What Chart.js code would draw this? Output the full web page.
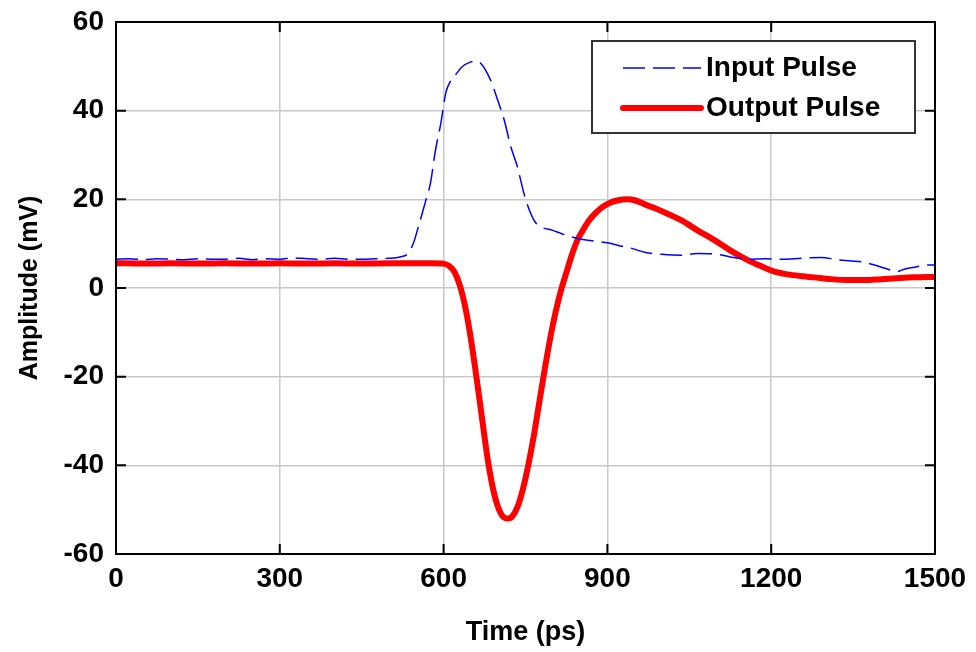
<!DOCTYPE html>
<html lang="en">

<head>
    <meta charset="UTF-8">
    <title>Input / Output Pulse</title>
    <script src="https://cdn.jsdelivr.net/npm/chart.js"></script>
    <style>
        body {
            margin: 0;
            background: white;
        }

        #pulseChart {
            display: block;
        }
    </style>
</head>

<body>
    <canvas id="pulseChart" width="976" height="652"></canvas>

    <script>
        // Input pulse (blue dashed), time in ps, amplitude in mV
        const inputTime = [0, 25, 50, 75, 100, 125, 150, 175, 200, 225, 250, 275, 300, 325, 350, 375, 400, 425, 450, 475,
            500, 520, 535, 545, 553, 561, 568, 576, 585, 595, 604, 612, 620, 634, 650, 660, 668, 686, 699, 711,
            723, 735, 747, 757, 767, 778, 800, 815, 835, 851, 875, 900, 920, 943, 970, 1000, 1035, 1065, 1096, 1125,
            1157, 1190, 1218, 1255, 1292, 1320, 1347, 1370, 1389, 1410, 1430, 1445, 1463, 1490, 1500];
        const inputAmp = [6.5, 6.6, 6.4, 6.6, 6.5, 6.4, 6.6, 6.5, 6.5, 6.7, 6.4, 6.6, 6.5, 6.8, 6.6, 6.5, 6.7, 6.5, 6.5, 6.6,
            6.7, 7.0, 7.8, 10.2, 13.5, 16.9, 20.0, 23.7, 31.0, 37.2, 44.0, 46.5, 47.8, 49.9, 51.0, 51.2, 50.7, 46.9, 42.4, 37.9,
            31.9, 27.4, 21.4, 17.6, 15.0, 13.8, 13.0, 12.3, 11.5, 11.0, 10.6, 10.2, 9.6, 9.0, 8.0, 7.6, 7.4, 7.8, 7.7, 7.0,
            6.5, 6.6, 6.5, 6.7, 6.9, 6.4, 6.1, 5.8, 5.2, 4.4, 3.7, 4.3, 4.7, 5.2, 5.2];

        // Output pulse (red solid)
        const outputTime = [0, 50, 100, 150, 200, 250, 300, 350, 400, 450, 500, 550, 580, 600, 610, 620, 630, 640, 650, 660,
            670, 680, 690, 700, 710, 718, 726, 735, 745, 755, 765, 775, 785, 795, 805, 815, 825, 835, 845, 855,
            865, 875, 890, 906, 920, 935, 950, 970, 1000, 1035, 1065, 1096, 1125, 1157, 1180, 1206, 1240, 1279, 1310, 1341,
            1370, 1402, 1430, 1463, 1500];
        const outputAmp = [5.6, 5.5, 5.6, 5.5, 5.6, 5.5, 5.6, 5.5, 5.6, 5.5, 5.6, 5.6, 5.6, 5.5, 5.0, 3.6, 0.5, -4.5, -11.5, -20.0,
            -29.0, -38.0, -45.0, -49.5, -51.7, -52.0, -51.5, -49.5, -45.5, -40.0, -33.5, -26.0, -18.5, -11.5, -5.5, -0.5, 3.5, 7.5, 10.8, 13.0,
            15.0, 16.5, 18.2, 19.3, 19.8, 20.0, 19.8, 18.8, 17.3, 15.3, 13.0, 10.8, 8.5, 6.3, 5.0, 3.7, 2.9, 2.4, 2.0, 1.8,
            1.8, 2.0, 2.2, 2.4, 2.5];

        const xTicks = [0, 300, 600, 900, 1200, 1500];
        const yTicks = [-60, -40, -20, 0, 20, 40, 60];

        const toPoints = (xs, ys) => xs.map((x, i) => ({ x: x, y: ys[i] }));

        // MATLAB style box: frame, inward ticks, legend in the upper right
        const matlabBox = {
            id: 'matlabBox',
            afterDatasetsDraw(chart) {
                const { ctx, chartArea: a, scales } = chart;
                ctx.save();
                ctx.strokeStyle = '#000';
                ctx.lineWidth = 2;
                ctx.strokeRect(a.left, a.top, a.right - a.left, a.bottom - a.top);
                ctx.beginPath();
                xTicks.forEach(v => {
                    const px = scales.x.getPixelForValue(v);
                    ctx.moveTo(px, a.bottom); ctx.lineTo(px, a.bottom - 10);
                    ctx.moveTo(px, a.top); ctx.lineTo(px, a.top + 10);
                });
                yTicks.forEach(v => {
                    const py = scales.y.getPixelForValue(v);
                    ctx.moveTo(a.left, py); ctx.lineTo(a.left + 10, py);
                    ctx.moveTo(a.right, py); ctx.lineTo(a.right - 10, py);
                });
                ctx.stroke();

                // legend
                const bx = a.right - 343, by = a.top + 19, bw = 323, bh = 92;
                ctx.fillStyle = '#fff';
                ctx.fillRect(bx, by, bw, bh);
                ctx.strokeStyle = '#333';
                ctx.lineWidth = 2;
                ctx.strokeRect(bx, by, bw, bh);
                ctx.font = 'bold 28px "Liberation Sans", Arial, sans-serif';
                ctx.textBaseline = 'middle';
                chart.data.datasets.forEach((ds, i) => {
                    const ly = by + 27 + i * 40;
                    ctx.beginPath();
                    ctx.strokeStyle = ds.borderColor;
                    ctx.lineWidth = ds.borderWidth;
                    ctx.lineCap = i === 1 ? 'round' : 'butt';
                    ctx.setLineDash(ds.borderDash || []);
                    ctx.moveTo(bx + 31, ly);
                    ctx.lineTo(bx + 109, ly);
                    ctx.stroke();
                    ctx.setLineDash([]);
                    ctx.fillStyle = '#000';
                    ctx.fillText(ds.label, bx + 114, ly);
                });
                ctx.restore();
            }
        };

        const tickFont = { family: '"Liberation Sans", Arial, sans-serif', size: 28, weight: 'bold' };

        new Chart(document.getElementById('pulseChart'), {
            type: 'line',
            data: {
                datasets: [{
                    label: 'Input Pulse',
                    data: toPoints(inputTime, inputAmp),
                    borderColor: '#0000ff',
                    borderWidth: 1.5,
                    borderDash: [22, 8],
                    pointRadius: 0,
                    cubicInterpolationMode: 'monotone',
                    fill: false
                }, {
                    label: 'Output Pulse',
                    data: toPoints(outputTime, outputAmp),
                    borderColor: '#ff0000',
                    borderWidth: 6,
                    pointRadius: 0,
                    cubicInterpolationMode: 'monotone',
                    fill: false
                }]
            },
            options: {
                responsive: false,
                animation: false,
                layout: { padding: { top: 22, right: 41, left: 0, bottom: 0 } },
                plugins: {
                    legend: { display: false },
                    tooltip: { enabled: false }
                },
                scales: {
                    x: {
                        type: 'linear',
                        min: 0,
                        max: 1500,
                        afterBuildTicks: s => { s.ticks = xTicks.map(v => ({ value: v })); },
                        afterFit: s => { s.height = 98; s.paddingLeft = 0; s.paddingRight = 0; },
                        ticks: { font: tickFont, color: '#000', padding: 8, maxRotation: 0, callback: v => String(v) },
                        grid: { color: '#c8c8c8', lineWidth: 1.5, drawTicks: false },
                        border: { display: true, color: '#000', width: 2 },
                        title: {
                            display: true,
                            text: 'Time (ps)',
                            color: '#000',
                            font: { family: tickFont.family, size: 27, weight: 'bold' },
                            padding: { top: 0, bottom: 3 }
                        }
                    },
                    y: {
                        min: -60,
                        max: 60,
                        afterBuildTicks: s => { s.ticks = yTicks.map(v => ({ value: v })); },
                        afterFit: s => { s.width = 116; s.paddingTop = 0; s.paddingBottom = 0; },
                        ticks: { font: tickFont, color: '#000', padding: 12, callback: v => String(v) },
                        grid: { color: '#c8c8c8', lineWidth: 1.5, drawTicks: false },
                        border: { display: true, color: '#000', width: 2 },
                        title: {
                            display: true,
                            text: 'Amplitude (mV)',
                            color: '#000',
                            font: { family: tickFont.family, size: 25, weight: 'bold' },
                            padding: { top: 15, bottom: 0 }
                        }
                    }
                }
            },
            plugins: [matlabBox]
        });
    </script>
</body>

</html>
